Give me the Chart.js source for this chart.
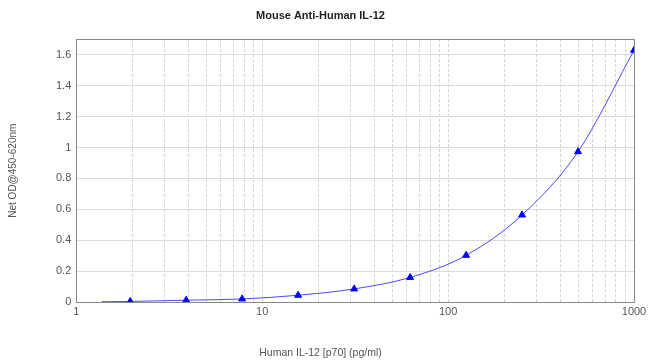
<!DOCTYPE html>
<html>
<head>
<meta charset="utf-8">
<script src="https://cdn.jsdelivr.net/npm/chart.js@4/dist/chart.umd.min.js"></script>
<style>
  html, body { margin: 0; padding: 0; background: #fff; }
  #wrap { width: 650px; height: 364px; }
</style>
</head>
<body>
<div id="wrap"><canvas id="c"></canvas></div>
<script>
//standard curve: concentration (pg/ml) vs net OD
const concentration = [1.95, 3.9, 7.8, 15.6, 31.25, 62.5, 125, 250, 500, 1000]
const netOD = [0.005, 0.013, 0.021, 0.045, 0.086, 0.16, 0.303, 0.564, 0.973, 1.628]

//fitted curve: starts a little left of the lowest standard
const curveX = [1.37, 1.95, 3.9, 7.8, 15.6, 31.25, 62.5, 125, 250, 500, 1000]
const curveY = [0.003, 0.005, 0.013, 0.021, 0.045, 0.086, 0.16, 0.303, 0.564, 0.973, 1.628]

const xGridTicks = [1, 2, 3, 4, 5, 6, 7, 8, 9, 10, 20, 30, 40, 50, 60, 70, 80, 90,
    100, 200, 300, 400, 500, 600, 700, 800, 900, 1000]
const xLabelTicks = [1, 10, 100, 1000]
const yTicks = [0, 0.2, 0.4, 0.6, 0.8, 1, 1.2, 1.4, 1.6]

const FONT = "'Liberation Sans', Arial, sans-serif"

//box round the plot area (top and right edges too)
const frame = {
    id: 'frame',
    afterDraw(chart) {
        const {ctx, chartArea: a} = chart
        ctx.save()
        ctx.strokeStyle = '#888'
        ctx.lineWidth = 1
        ctx.strokeRect(Math.round(a.left) + 0.5, Math.round(a.top) + 0.5,
            Math.round(a.right - a.left), Math.round(a.bottom - a.top))
        ctx.restore()
    }
}

new Chart(document.getElementById('c'), {
    type: 'scatter',
    data: {
        datasets: [{
            type: 'line',
            data: curveX.map((x, i) => ({x, y: curveY[i]})),
            borderColor: '#4a4aff',
            borderWidth: 1,
            pointRadius: 0,
            cubicInterpolationMode: 'monotone',
            fill: false,
            order: 2
        }, {
            data: concentration.map((x, i) => ({x, y: netOD[i]})),
            pointStyle: 'triangle',
            pointRadius: 4,
            backgroundColor: '#0000ff',
            borderColor: '#0000ff',
            borderWidth: 1,
            order: 1
        }]
    },
    options: {
        responsive: true,
        maintainAspectRatio: false,
        animation: false,
        layout: {padding: {left: 7, right: 16, top: 0, bottom: 0}},
        plugins: {
            legend: {display: false},
            tooltip: {enabled: false},
            title: {
                display: true,
                text: 'Mouse Anti-Human IL-12',
                color: '#222',
                font: {family: FONT, size: 11, weight: 'bold'},
                padding: {top: 9, bottom: 17}
            },
            subtitle: {
                display: true,
                position: 'bottom',
                text: 'Human IL-12 [p70] (pg/ml)',
                color: '#555',
                font: {family: FONT, size: 10.5},
                padding: {top: 25, bottom: 5}
            }
        },
        scales: {
            x: {
                type: 'logarithmic',
                min: 1,
                max: 1000,
                afterBuildTicks: s => { s.ticks = xGridTicks.map(v => ({value: v})) },
                ticks: {
                    autoSkip: false,
                    maxRotation: 0,
                    padding: 3,
                    color: '#555',
                    font: {family: FONT, size: 11},
                    callback: v => xLabelTicks.includes(v) ? String(v) : ''
                },
                grid: {color: '#d4d4d4', drawTicks: false},
                border: {display: true, color: '#777', dash: [3, 2]}
            },
            y: {
                min: 0,
                max: 1.7,
                afterBuildTicks: s => { s.ticks = yTicks.map(v => ({value: v})) },
                ticks: {
                    padding: 5,
                    color: '#555',
                    font: {family: FONT, size: 11},
                    callback: v => String(Math.round(v * 10) / 10)
                },
                grid: {color: '#dcdcdc', drawTicks: false},
                border: {display: true, color: '#777'},
                title: {
                    display: true,
                    text: 'Net OD@450-620nm',
                    color: '#555',
                    font: {family: FONT, size: 10},
                    padding: {top: 0, bottom: 32}
                }
            }
        }
    },
    plugins: [frame]
})
</script>
</body>
</html>
